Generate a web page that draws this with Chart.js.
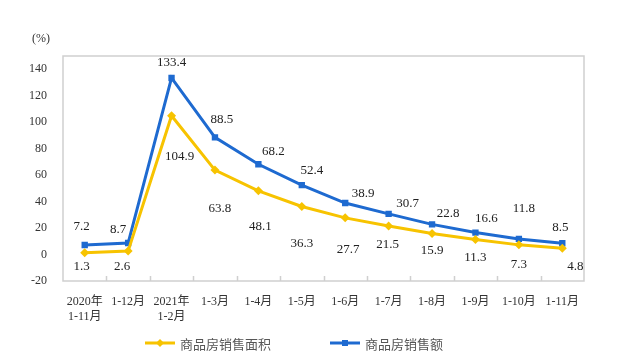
<!DOCTYPE html>
<html><head><meta charset="utf-8">
<script src="https://cdn.jsdelivr.net/npm/chart.js@4/dist/chart.umd.min.js"></script>
<style>html,body{margin:0;padding:0;background:#fff}#wrap{width:630px;height:357px}</style>
</head><body><div id="wrap"><canvas id="c" width="630" height="357"></canvas></div>
<script>
const categories = [["2020年","1-11月"],"1-12月",["2021年","1-2月"],"1-3月","1-4月","1-5月","1-6月","1-7月","1-8月","1-9月","1-10月","1-11月"];
const areaGrowth = [1.3,2.6,104.9,63.8,48.1,36.3,27.7,21.5,15.9,11.3,7.3,4.8];
const salesGrowth = [7.2,8.7,133.4,88.5,68.2,52.4,38.9,30.7,22.8,16.6,11.8,8.5];
const yTicks = [-20,0,20,40,60,80,100,120,140];
const seriesNames = ["商品房销售面积","商品房销售额"];

// label nudges (px) for value annotations
const areaOff = [[-3,14],[-6,15],[8,41],[5,38],[2,36],[0,37],[3,32],[-1,19],[0,17],[0,18],[0,20],[13,18]];
const salesOff = [[-3,-18],[-10,-13],[0,-15],[7,-18],[15,-13],[10,-15],[18,-9],[19,-10],[16,-11],[11,-14],[5,-30],[-2,-16]];

const YELLOW = '#f7c300', BLUE = '#1e6ad0';
const serif = '"Liberation Serif","Noto Sans CJK SC",serif';

const deco = {
  id:'deco',
  afterDraw(chart){
    const {ctx, chartArea:a, scales:{x,y}} = chart;
    ctx.save();
    ctx.strokeStyle='#cfcfcf'; ctx.lineWidth=1.5;
    ctx.strokeRect(a.left, a.top, a.right-a.left, a.bottom-a.top);
    // inner tick marks at category boundaries
    for(let i=1;i<categories.length;i++){
      const px = (x.getPixelForValue(i-1)+x.getPixelForValue(i))/2;
      ctx.beginPath(); ctx.moveTo(Math.round(px)+0.5,a.bottom); ctx.lineTo(Math.round(px)+0.5,a.bottom-5); ctx.stroke();
    }
    // unit
    ctx.fillStyle='#333'; ctx.font='12px '+serif; ctx.textAlign='center'; ctx.textBaseline='middle';
    ctx.fillText('(%)', 41, 39);
    // value labels
    ctx.font='13px '+serif; ctx.fillStyle='#222';
    chart.data.datasets.forEach((ds,di)=>{
      const meta = chart.getDatasetMeta(di);
      const off = di===0?areaOff:salesOff;
      meta.data.forEach((p,i)=>{
        ctx.fillText(ds.data[i].toFixed(1), p.x+off[i][0], p.y+off[i][1]);
      });
    });
    // legend
    const items=[{c:YELLOW,s:'diamond',x:145},{c:BLUE,s:'square',x:330}];
    const ly=343;
    ctx.font='13px "Noto Sans CJK SC",serif'; ctx.textAlign='left'; ctx.fillStyle='#555';
    items.forEach((it,i)=>{
      ctx.strokeStyle=it.c; ctx.lineWidth=3;
      ctx.beginPath(); ctx.moveTo(it.x,ly); ctx.lineTo(it.x+30,ly); ctx.stroke();
      ctx.fillStyle=it.c;
      const cx=it.x+15;
      ctx.beginPath();
      if(it.s==='diamond'){ctx.moveTo(cx,ly-4);ctx.lineTo(cx+4,ly);ctx.lineTo(cx,ly+4);ctx.lineTo(cx-4,ly);ctx.closePath();}
      else {ctx.rect(cx-3,ly-3,6,6);}
      ctx.fill();
      ctx.fillStyle='#555';
      ctx.fillText(seriesNames[i], it.x+35, ly+1);
    });
    ctx.restore();
  }
};

new Chart(document.getElementById('c'),{
  type:'line',
  data:{labels:categories,datasets:[
    {label:seriesNames[0],data:areaGrowth,borderColor:YELLOW,backgroundColor:YELLOW,borderWidth:3,pointStyle:'rectRot',pointRadius:4.5,pointBorderWidth:0,tension:0},
    {label:seriesNames[1],data:salesGrowth,borderColor:BLUE,backgroundColor:BLUE,borderWidth:3,pointStyle:'rect',pointRadius:4.5,pointBorderWidth:0,tension:0}
  ]},
  options:{
    responsive:false,animation:false,
    layout:{padding:{left:0,right:46,top:56,bottom:0}},
    plugins:{legend:{display:false},tooltip:{enabled:false}},
    scales:{
      x:{offset:true,grid:{display:false},border:{display:false},
        ticks:{color:'#333',font:{family:serif,size:12},maxRotation:0,autoSkip:false,padding:6},
        afterFit(s){s.height=76;}},
      y:{min:-20,max:150,grid:{display:false},border:{display:false},
        afterBuildTicks(s){s.ticks=yTicks.map(v=>({value:v}));},
        ticks:{color:'#333',font:{family:serif,size:12},padding:8},
        afterFit(s){s.width=63;}}
    }
  },
  plugins:[deco]
});
</script></body></html>
